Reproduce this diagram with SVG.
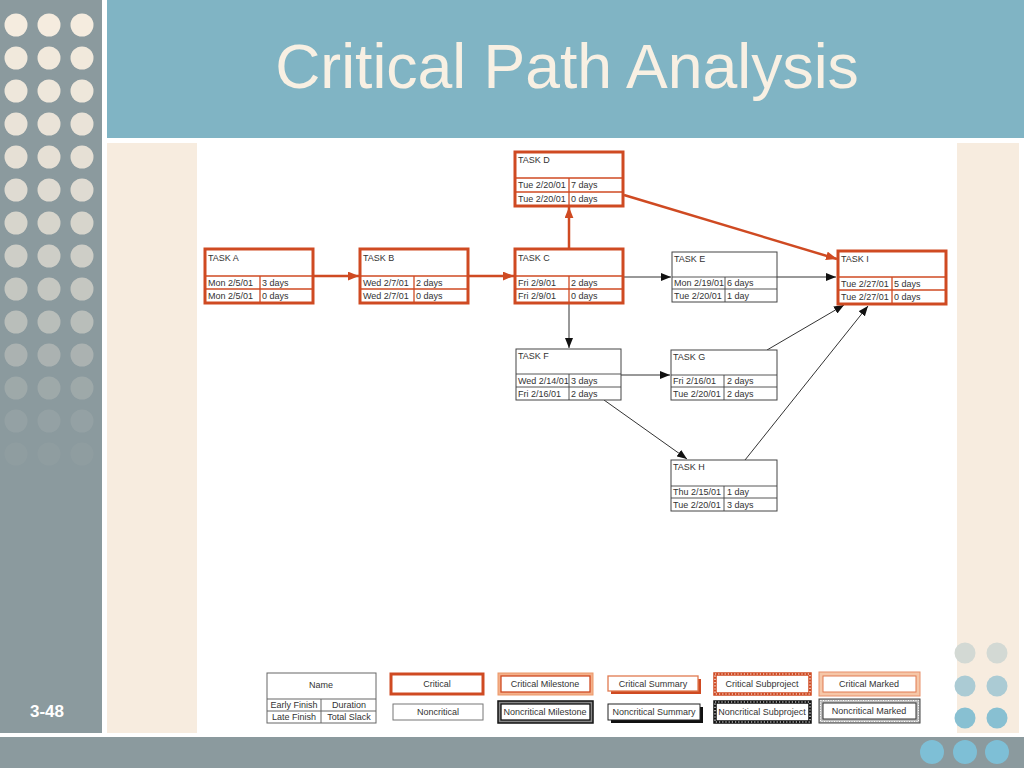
<svg xmlns="http://www.w3.org/2000/svg" width="1024" height="768" viewBox="0 0 1024 768">
<defs>
<style>
.t{font-family:"Liberation Sans",Arial,sans-serif;font-size:9px;fill:#333}
.lg{font-family:"Liberation Sans",Arial,sans-serif;font-size:9px;fill:#333;text-anchor:middle}
.cb{fill:#fff;stroke:#cf4a22;stroke-width:3}
.ci{stroke:#cf4a22;stroke-width:1.3}
.nb{fill:#fff;stroke:#444;stroke-width:1}
.ni{stroke:#444;stroke-width:0.9}
.ca{stroke:#cf4a22;stroke-width:2.5;fill:none}
.na{stroke:#333;stroke-width:1;fill:none}
.dl{fill:#f5ecdf}
</style>
<marker id="ma" viewBox="0 0 10 8" refX="10" refY="4" markerWidth="11" markerHeight="9" markerUnits="userSpaceOnUse" orient="auto"><path d="M0,0 L10,4 L0,8 z" fill="#cf4a22"/></marker>
<marker id="mb" viewBox="0 0 10 8" refX="10" refY="4" markerWidth="10" markerHeight="8" markerUnits="userSpaceOnUse" orient="auto"><path d="M0,0 L10,4 L0,8 z" fill="#111"/></marker>
</defs>

<!-- background -->
<rect x="0" y="0" width="1024" height="768" fill="#ffffff"/>
<rect x="0" y="0" width="102" height="733" fill="#8b9a9e"/>
<rect x="107" y="0" width="917" height="138" fill="#80b4c4"/>
<rect x="107" y="143" width="90" height="590" fill="#f7ecdf"/>
<rect x="957" y="143" width="62" height="590" fill="#f7ecdf"/>
<rect x="0" y="737" width="1024" height="31" fill="#8b9a9e"/>

<!-- left dots -->
<g id="left-dots" class="dl">
<g opacity="1"><circle cx="16" cy="25" r="11.5"/><circle cx="49" cy="25" r="11.5"/><circle cx="82" cy="25" r="11.5"/></g>
<g opacity="0.97"><circle cx="16" cy="58" r="11.5"/><circle cx="49" cy="58" r="11.5"/><circle cx="82" cy="58" r="11.5"/></g>
<g opacity="0.94"><circle cx="16" cy="91" r="11.5"/><circle cx="49" cy="91" r="11.5"/><circle cx="82" cy="91" r="11.5"/></g>
<g opacity="0.9"><circle cx="16" cy="124" r="11.5"/><circle cx="49" cy="124" r="11.5"/><circle cx="82" cy="124" r="11.5"/></g>
<g opacity="0.86"><circle cx="16" cy="157" r="11.5"/><circle cx="49" cy="157" r="11.5"/><circle cx="82" cy="157" r="11.5"/></g>
<g opacity="0.8"><circle cx="16" cy="190" r="11.5"/><circle cx="49" cy="190" r="11.5"/><circle cx="82" cy="190" r="11.5"/></g>
<g opacity="0.72"><circle cx="16" cy="223" r="11.5"/><circle cx="49" cy="223" r="11.5"/><circle cx="82" cy="223" r="11.5"/></g>
<g opacity="0.64"><circle cx="16" cy="256" r="11.5"/><circle cx="49" cy="256" r="11.5"/><circle cx="82" cy="256" r="11.5"/></g>
<g opacity="0.55"><circle cx="16" cy="289" r="11.5"/><circle cx="49" cy="289" r="11.5"/><circle cx="82" cy="289" r="11.5"/></g>
<g opacity="0.44"><circle cx="16" cy="322" r="11.5"/><circle cx="49" cy="322" r="11.5"/><circle cx="82" cy="322" r="11.5"/></g>
<g opacity="0.3"><circle cx="16" cy="355" r="11.5"/><circle cx="49" cy="355" r="11.5"/><circle cx="82" cy="355" r="11.5"/></g>
<g opacity="0.18"><circle cx="16" cy="388" r="11.5"/><circle cx="49" cy="388" r="11.5"/><circle cx="82" cy="388" r="11.5"/></g>
<g opacity="0.09"><circle cx="16" cy="421" r="11.5"/><circle cx="49" cy="421" r="11.5"/><circle cx="82" cy="421" r="11.5"/></g>
<g opacity="0.04"><circle cx="16" cy="454" r="11.5"/><circle cx="49" cy="454" r="11.5"/><circle cx="82" cy="454" r="11.5"/></g>
</g>

<!-- right dots -->
<g id="right-dots">
<circle cx="965" cy="653" r="10.5" fill="#d3d9d4"/><circle cx="997" cy="653" r="10.5" fill="#d3d9d4"/>
<circle cx="965" cy="686" r="10.5" fill="#abcbd4"/><circle cx="997" cy="686" r="10.5" fill="#abcbd4"/>
<circle cx="965" cy="718" r="10.5" fill="#88c0d2"/><circle cx="997" cy="718" r="10.5" fill="#88c0d2"/>
<circle cx="932" cy="752" r="12" fill="#7ebfd6"/><circle cx="965" cy="752" r="12" fill="#7ebfd6"/><circle cx="997" cy="752" r="12" fill="#7ebfd6"/>
</g>

<!-- title -->
<text x="567" y="88" font-family="'Liberation Sans',Arial,sans-serif" font-size="62.5" fill="#f8f0e3" text-anchor="middle">Critical Path Analysis</text>
<text x="47" y="717" font-family="'Liberation Sans',Arial,sans-serif" font-size="17" font-weight="bold" fill="#ffffff" text-anchor="middle">3-48</text>

<!-- connectors -->
<g id="connectors">
<line class="ca" x1="314" y1="276" x2="359" y2="276" marker-end="url(#ma)"/>
<line class="ca" x1="469" y1="276" x2="514" y2="276" marker-end="url(#ma)"/>
<line class="ca" x1="569" y1="248" x2="569" y2="207" marker-end="url(#ma)"/>
<line class="ca" x1="624" y1="195" x2="837" y2="259" marker-end="url(#ma)"/>
<line class="na" x1="624" y1="277" x2="671" y2="277" marker-end="url(#mb)"/>
<line class="na" x1="777" y1="277" x2="836" y2="277" marker-end="url(#mb)"/>
<line class="na" x1="569" y1="304" x2="569" y2="348" marker-end="url(#mb)"/>
<line class="na" x1="621" y1="375" x2="670" y2="375" marker-end="url(#mb)"/>
<line class="na" x1="604" y1="400" x2="687" y2="459" marker-end="url(#mb)"/>
<line class="na" x1="767" y1="350" x2="844" y2="305" marker-end="url(#mb)"/>
<line class="na" x1="745" y1="460" x2="868" y2="306" marker-end="url(#mb)"/>
</g>

<!-- nodes -->
<g id="task-a" transform="translate(205,249)">
<rect class="cb" width="108" height="54"/>
<line class="ci" x1="0" y1="27" x2="108" y2="27"/><line class="ci" x1="0" y1="40" x2="108" y2="40"/><line class="ci" x1="55" y1="27" x2="55" y2="54"/>
<text class="t" x="3" y="12">TASK A</text>
<text class="t" x="3" y="37">Mon 2/5/01</text><text class="t" x="57" y="37">3 days</text>
<text class="t" x="3" y="50">Mon 2/5/01</text><text class="t" x="57" y="50">0 days</text>
</g>
<g id="task-b" transform="translate(360,249)">
<rect class="cb" width="108" height="54"/>
<line class="ci" x1="0" y1="27" x2="108" y2="27"/><line class="ci" x1="0" y1="40" x2="108" y2="40"/><line class="ci" x1="54" y1="27" x2="54" y2="54"/>
<text class="t" x="3" y="12">TASK B</text>
<text class="t" x="3" y="37">Wed 2/7/01</text><text class="t" x="56" y="37">2 days</text>
<text class="t" x="3" y="50">Wed 2/7/01</text><text class="t" x="56" y="50">0 days</text>
</g>
<g id="task-c" transform="translate(515,249)">
<rect class="cb" width="108" height="54"/>
<line class="ci" x1="0" y1="27" x2="108" y2="27"/><line class="ci" x1="0" y1="40" x2="108" y2="40"/><line class="ci" x1="54" y1="27" x2="54" y2="54"/>
<text class="t" x="3" y="12">TASK C</text>
<text class="t" x="3" y="37">Fri 2/9/01</text><text class="t" x="56" y="37">2 days</text>
<text class="t" x="3" y="50">Fri 2/9/01</text><text class="t" x="56" y="50">0 days</text>
</g>
<g id="task-d" transform="translate(515,152)">
<rect class="cb" width="108" height="54"/>
<line class="ci" x1="0" y1="26" x2="108" y2="26"/><line class="ci" x1="0" y1="40" x2="108" y2="40"/><line class="ci" x1="54" y1="26" x2="54" y2="54"/>
<text class="t" x="3" y="11">TASK D</text>
<text class="t" x="3" y="36">Tue 2/20/01</text><text class="t" x="56" y="36">7 days</text>
<text class="t" x="3" y="50">Tue 2/20/01</text><text class="t" x="56" y="50">0 days</text>
</g>
<g id="task-e" transform="translate(672,252)">
<rect class="nb" width="105" height="50"/>
<line class="ni" x1="0" y1="25" x2="105" y2="25"/><line class="ni" x1="0" y1="37" x2="105" y2="37"/><line class="ni" x1="53" y1="25" x2="53" y2="50"/>
<text class="t" x="2" y="10">TASK E</text>
<text class="t" x="2" y="34">Mon 2/19/01</text><text class="t" x="55" y="34">6 days</text>
<text class="t" x="2" y="47">Tue 2/20/01</text><text class="t" x="55" y="47">1 day</text>
</g>
<g id="task-i" transform="translate(838,251)">
<rect class="cb" width="108" height="53"/>
<line class="ci" x1="0" y1="26" x2="108" y2="26"/><line class="ci" x1="0" y1="39" x2="108" y2="39"/><line class="ci" x1="54" y1="26" x2="54" y2="53"/>
<text class="t" x="3" y="11">TASK I</text>
<text class="t" x="3" y="36">Tue 2/27/01</text><text class="t" x="56" y="36">5 days</text>
<text class="t" x="3" y="49">Tue 2/27/01</text><text class="t" x="56" y="49">0 days</text>
</g>
<g id="task-f" transform="translate(516,349)">
<rect class="nb" width="105" height="51"/>
<line class="ni" x1="0" y1="25" x2="105" y2="25"/><line class="ni" x1="0" y1="38" x2="105" y2="38"/><line class="ni" x1="53" y1="25" x2="53" y2="51"/>
<text class="t" x="2" y="10">TASK F</text>
<text class="t" x="2" y="35">Wed 2/14/01</text><text class="t" x="55" y="35">3 days</text>
<text class="t" x="2" y="48">Fri 2/16/01</text><text class="t" x="55" y="48">2 days</text>
</g>
<g id="task-g" transform="translate(671,350)">
<rect class="nb" width="106" height="50"/>
<line class="ni" x1="0" y1="25" x2="106" y2="25"/><line class="ni" x1="0" y1="37" x2="106" y2="37"/><line class="ni" x1="53" y1="25" x2="53" y2="50"/>
<text class="t" x="2" y="10">TASK G</text>
<text class="t" x="2" y="34">Fri 2/16/01</text><text class="t" x="56" y="34">2 days</text>
<text class="t" x="2" y="47">Tue 2/20/01</text><text class="t" x="56" y="47">2 days</text>
</g>
<g id="task-h" transform="translate(671,460)">
<rect class="nb" width="106" height="51"/>
<line class="ni" x1="0" y1="26" x2="106" y2="26"/><line class="ni" x1="0" y1="38" x2="106" y2="38"/><line class="ni" x1="53" y1="26" x2="53" y2="51"/>
<text class="t" x="2" y="10">TASK H</text>
<text class="t" x="2" y="35">Thu 2/15/01</text><text class="t" x="56" y="35">1 day</text>
<text class="t" x="2" y="48">Tue 2/20/01</text><text class="t" x="56" y="48">3 days</text>
</g>

<!-- legend -->
<g id="legend">
<g id="legend-key">
<rect x="267" y="673" width="109" height="50" fill="#fff" stroke="#666" stroke-width="1"/>
<line x1="267" y1="699" x2="376" y2="699" stroke="#666"/><line x1="267" y1="711" x2="376" y2="711" stroke="#666"/><line x1="321" y1="699" x2="321" y2="723" stroke="#666"/>
<text class="lg" x="321" y="688">Name</text>
<text class="lg" x="294" y="708">Early Finish</text><text class="lg" x="349" y="708">Duration</text>
<text class="lg" x="294" y="720">Late Finish</text><text class="lg" x="349" y="720">Total Slack</text>
</g>
<g id="legend-critical">
<rect x="391" y="674" width="92" height="20" fill="#fff" stroke="#cf4a22" stroke-width="3"/>
<text class="lg" x="437" y="687">Critical</text>
</g>
<g id="legend-noncritical">
<rect x="393" y="704" width="90" height="16" fill="#fff" stroke="#777" stroke-width="1"/>
<text class="lg" x="438" y="715">Noncritical</text>
</g>
<g id="legend-critical-milestone">
<rect x="498" y="673" width="95" height="22" fill="#f4b08a" stroke="#ec9868" stroke-width="1"/>
<rect x="501" y="676" width="89" height="16" fill="#fff" stroke="#cf4a22" stroke-width="1.3"/>
<text class="lg" x="545" y="687">Critical Milestone</text>
</g>
<g id="legend-noncritical-milestone">
<rect x="498" y="701" width="95" height="22" fill="#888" stroke="#111" stroke-width="1.5"/>
<rect x="501" y="704" width="89" height="16" fill="#fff" stroke="#111" stroke-width="1.3"/>
<text class="lg" x="545" y="715">Noncritical Milestone</text>
</g>
<g id="legend-critical-summary">
<rect x="611" y="679" width="90" height="15" fill="#cf4a22"/>
<rect x="608" y="676" width="90" height="15" fill="#fff" stroke="#e07a50" stroke-width="1.3"/>
<text class="lg" x="653" y="687">Critical Summary</text>
</g>
<g id="legend-noncritical-summary">
<rect x="611" y="707" width="92" height="16" fill="#111"/>
<rect x="608" y="704" width="92" height="16" fill="#fff" stroke="#222" stroke-width="1"/>
<text class="lg" x="654" y="715">Noncritical Summary</text>
</g>
<g id="legend-critical-subproject">
<rect x="715" y="674" width="95" height="20" fill="#fff" stroke="#cf4a22" stroke-width="3.5"/>
<rect x="715" y="674" width="95" height="20" fill="none" stroke="#fff" stroke-width="1.2" stroke-dasharray="1.2 2"/>
<text class="lg" x="762" y="687">Critical Subproject</text>
</g>
<g id="legend-noncritical-subproject">
<rect x="715" y="702" width="95" height="20" fill="#fff" stroke="#111" stroke-width="3.5"/>
<rect x="715" y="702" width="95" height="20" fill="none" stroke="#fff" stroke-width="1.2" stroke-dasharray="1.2 2"/>
<text class="lg" x="762" y="715">Noncritical Subproject</text>
</g>
<g id="legend-critical-marked">
<rect x="819" y="672" width="101" height="24" fill="#f6c7a8" stroke="#e8906a" stroke-width="1"/>
<rect x="823" y="676" width="93" height="16" fill="#fff" stroke="#e07a50" stroke-width="1"/>
<text class="lg" x="869" y="687">Critical Marked</text>
</g>
<g id="legend-noncritical-marked">
<rect x="819" y="699" width="101" height="24" fill="#bbb" stroke="#444" stroke-width="1"/>
<rect x="820.5" y="700.5" width="98" height="21" fill="none" stroke="#fff" stroke-width="1" stroke-dasharray="1 1.5"/>
<rect x="823" y="703" width="93" height="16" fill="#fff" stroke="#333" stroke-width="1"/>
<text class="lg" x="869" y="714">Noncritical Marked</text>
</g>
</g>
</svg>
